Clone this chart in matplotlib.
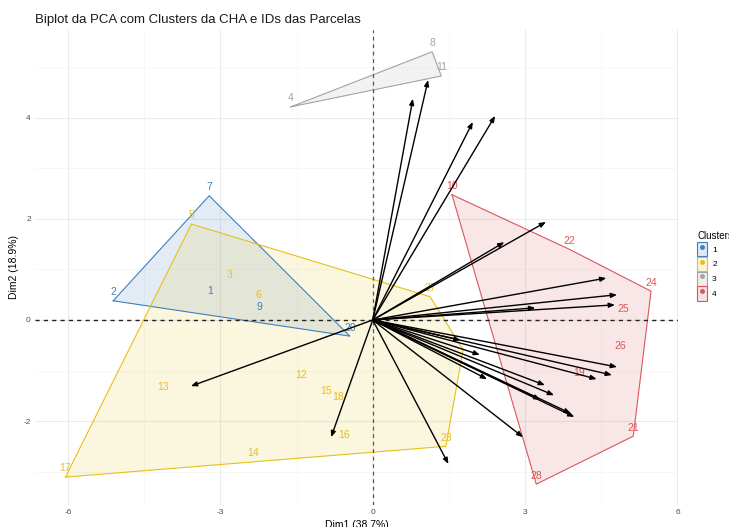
import matplotlib
matplotlib.use("Agg")
import matplotlib.pyplot as plt
from matplotlib.patches import Patch
from matplotlib.lines import Line2D
from matplotlib.legend_handler import HandlerTuple
from matplotlib.ticker import MultipleLocator
import numpy as np

# individuals (parcel IDs) on the first two PCA dimensions, with HCA cluster
ids = ["1", "2", "3", "4", "5", "6", "7", "8", "9", "10", "11", "12", "13", "14",
       "15", "16", "17", "18", "19", "20", "21", "22", "23", "24", "25", "26",
       "27", "28", ""]
dim1 = [-3.20, -5.11, -2.82, -1.61, -3.57, -2.26, -3.22, 1.17, -2.24, 1.56, 1.35,
        -1.41, -4.13, -2.36, -0.92, -0.56, -6.05, -0.68, 4.07, -0.45, 5.13, 3.87,
        1.44, 5.48, 4.93, 4.87, 1.13, 3.22, 1.78]
dim2 = [0.40, 0.38, 0.73, 4.22, 1.90, 0.32, 2.46, 5.31, 0.08, 2.48, 4.83,
        -1.25, -1.50, -2.80, -1.58, -2.44, -3.11, -1.70, -1.21, -0.32, -2.30, 1.40,
        -2.50, 0.57, 0.04, -0.69, 0.46, -3.25, -0.59]
cluster = [1, 1, 2, 3, 2, 2, 1, 3, 1, 4, 3, 2, 2, 2, 2, 2, 2, 2, 4, 1, 4, 4,
           2, 4, 4, 4, 2, 4, 2]

# variable loading arrows (tips)
var_x = [0.79, 1.09, 1.97, 2.41, 3.41, 2.59, 4.60, 4.81, 4.77, 3.20, 1.73, 2.11,
         2.25, 4.81, 4.71, 4.41, 3.39, 3.57, 3.30, 3.90, 3.97, 2.96, 1.49, -3.58, -0.82]
var_y = [4.38, 4.75, 3.92, 4.04, 1.94, 1.54, 0.83, 0.50, 0.30, 0.24, -0.40, -0.69,
         -1.17, -0.93, -1.09, -1.17, -1.29, -1.49, -1.58, -1.85, -1.92, -2.32, -2.85,
         -1.31, -2.32]

cluster_names = ["1", "2", "3", "4"]
COLORS = {1: "#3f7fbf", 2: "#e7c01c", 3: "#a3a3a3", 4: "#d9575b"}

plt.rcParams.update({"font.family": ["Liberation Sans", "DejaVu Sans"],
                     "axes.unicode_minus": False})


def hull(pts):
    pts = sorted(set(pts))
    if len(pts) < 3:
        return pts
    def cross(o, a, b):
        return (a[0] - o[0]) * (b[1] - o[1]) - (a[1] - o[1]) * (b[0] - o[0])
    lower, upper = [], []
    for p in pts:
        while len(lower) >= 2 and cross(lower[-2], lower[-1], p) <= 0:
            lower.pop()
        lower.append(p)
    for p in reversed(pts):
        while len(upper) >= 2 and cross(upper[-2], upper[-1], p) <= 0:
            upper.pop()
        upper.append(p)
    return lower[:-1] + upper[:-1]


fig = plt.figure(figsize=(7.29, 5.27), dpi=100)
ax = fig.add_axes([0.048, 0.042, 0.882, 0.901])
ax.set_xlim(-6.65, 6.01)
ax.set_ylim(-3.66, 5.74)

ax.xaxis.set_major_locator(MultipleLocator(3))
ax.xaxis.set_minor_locator(MultipleLocator(1.5))
ax.yaxis.set_major_locator(MultipleLocator(2))
ax.yaxis.set_minor_locator(MultipleLocator(1))
ax.grid(which="major", color="#ebebeb", lw=0.8)
ax.grid(which="minor", color="#f4f4f4", lw=0.5)
ax.set_axisbelow(True)
for s in ax.spines.values():
    s.set_visible(False)
ax.tick_params(which="both", length=0, labelsize=6, colors="#4d4d4d", pad=3)

dim1 = np.array(dim1); dim2 = np.array(dim2); cluster = np.array(cluster)

for k in [1, 2, 3, 4]:
    m = cluster == k
    h = hull(list(zip(dim1[m], dim2[m])))
    hx = [p[0] for p in h] + [h[0][0]]
    hy = [p[1] for p in h] + [h[0][1]]
    ax.fill(hx, hy, color=COLORS[k], alpha=0.14, lw=0, zorder=1)
    ax.plot(hx, hy, color=COLORS[k], lw=0.8, zorder=2)

ax.axhline(0, color="#222222", lw=1.0, ls=(0, (3, 3)), zorder=3)
ax.axvline(0, color="#555555", lw=0.9, ls=(0, (3, 3)), zorder=3)

for i, lab in enumerate(ids):
    if lab:
        ax.text(dim1[i], dim2[i] + 0.17, lab, color=COLORS[cluster[i]],
                fontsize=7.5, ha="center", va="center", zorder=4)

for vx, vy in zip(var_x, var_y):
    ax.annotate("", xy=(vx, vy), xytext=(0, 0),
                arrowprops=dict(arrowstyle="-|>,head_length=0.35,head_width=0.14",
                                color="black", lw=1.0, shrinkA=0, shrinkB=0),
                zorder=5)

ax.set_xlabel("Dim1 (38.7%)", fontsize=7.5, labelpad=3)
ax.set_ylabel("Dim2 (18.9%)", fontsize=7.5, labelpad=3)
fig.text(0.048, 0.962, "Biplot da PCA com Clusters da CHA e IDs das Parcelas",
         fontsize=9.5, color="#1a1a1a", ha="left", va="center")

handles = [(Patch(facecolor=COLORS[k], edgecolor="none", alpha=0.17),
            Patch(facecolor="none", edgecolor=COLORS[k], lw=0.8),
            Line2D([], [], marker="o", ms=2.5, color=COLORS[k], ls=""))
           for k in [1, 2, 3, 4]]
leg = fig.legend(handles, cluster_names, title="Clusters", loc="center left",
                 bbox_to_anchor=(0.946, 0.495), frameon=False, fontsize=6,
                 title_fontsize=7, handlelength=1.2, handleheight=2.3,
                 handletextpad=0.6, labelspacing=0.05,
                 handler_map={tuple: HandlerTuple(ndivide=1)})
leg._legend_box.align = "left"

fig.savefig("out.png", dpi=100)
